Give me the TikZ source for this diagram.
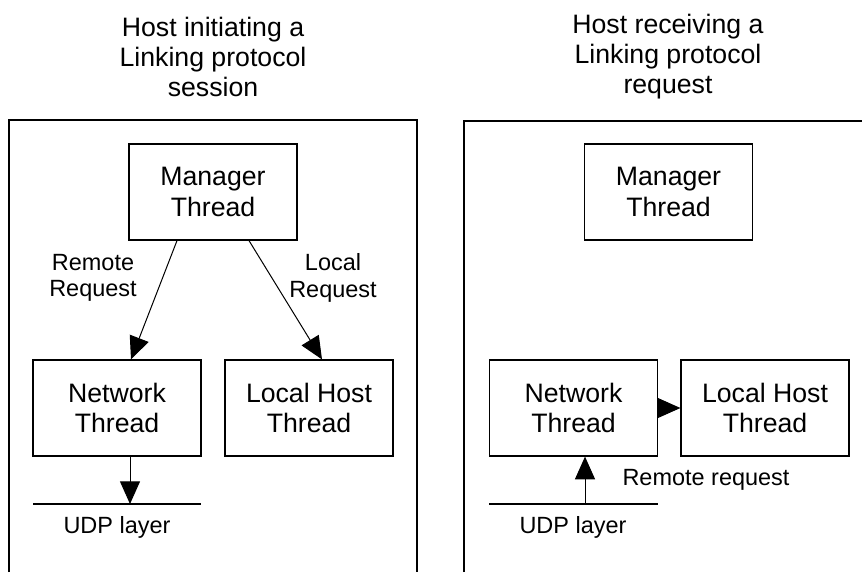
\documentclass[tikz,border=0pt]{standalone}
\usepackage{fontspec}
\setmainfont{Liberation Sans}
\usetikzlibrary{arrows.meta,calc}

\begin{document}
\begin{tikzpicture}[x=0.75pt,y=-0.75pt,
  frame/.style={line width=1.1pt},
  thread/.style={draw,line width=0.9pt,minimum width=126pt,minimum height=72pt,inner sep=0pt,
    align=center,font=\fontsize{20pt}{23pt}\selectfont},
  title/.style={align=center,font=\fontsize{20pt}{22.5pt}\selectfont},
  lbl/.style={align=center,font=\fontsize{17.6pt}{20pt}\selectfont},
  flow/.style={line width=0.75pt,-{Triangle[length=17pt,width=15pt]}},
  layer/.style={line width=0.9pt}]
\useasboundingbox (0,0) rectangle (862,572);

% ---- left: initiating host ----
\node[title] (titleL) at (213,57) {Host initiating a\\Linking protocol\\session};
\draw[frame] (9,572) -- (9,120) -- (417,120) -- (417,572);
\node[thread] (mgrL) at (213,192) {Manager\\Thread};
\node[thread] (netL) at (117,408) {Network\\Thread};
\node[thread] (locL) at (309,408) {Local Host\\Thread};
\coordinate (udpLa) at (33,504);
\coordinate (udpLb) at (201,504);
\coordinate (udpLin) at (130,504);
\draw[layer] (udpLa) -- (udpLb);
\node[lbl] (udpLt) at (117,527) {UDP layer};
\node[lbl] (remL) at (93,278) {Remote\\Request};
\node[lbl] (locRq) at (333,278) {Local\\Request};
\draw[flow] ($(mgrL.south)+(-36,0)$) -- ($(netL.north)+(14,0)$);
\draw[flow] ($(mgrL.south)+(36,0)$) -- ($(locL.north)+(13,0)$);
\draw[flow] (netL.south -| udpLin) -- (udpLin);

% ---- right: receiving host ----
\node[title] (titleR) at (668,57) {Host receiving a\\Linking protocol\\request};
\draw[frame] (464,572) -- (464,121) -- (862,121);
\node[thread] (mgrR) at (668.5,192) {Manager\\Thread};
\node[thread] (netR) at (573.5,408) {Network\\Thread};
\node[thread] (locR) at (765,408) {Local Host\\Thread};
\coordinate (udpRa) at (489,504);
\coordinate (udpRb) at (658,504);
\coordinate (udpRout) at (585,504);
\draw[layer] (udpRa) -- (udpRb);
\node[lbl] (udpRt) at (573,527) {UDP layer};
\node[lbl] (remR) at (706,480) {Remote request};
\draw[flow] (udpRout) -- (netR.south -| udpRout);
\draw[flow] (netR.east) -- (locR.west);
\end{tikzpicture}
\end{document}
